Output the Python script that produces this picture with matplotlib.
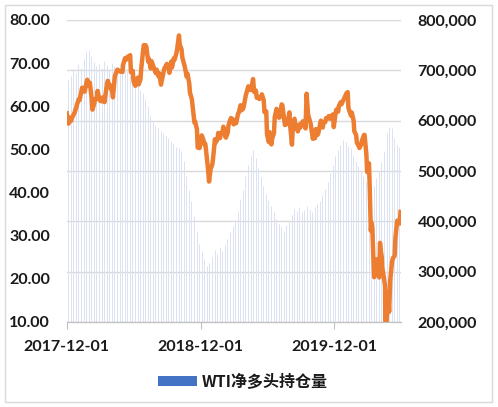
import matplotlib
matplotlib.use("Agg")
import matplotlib.pyplot as plt
import matplotlib.dates as mdates
from matplotlib.patches import Patch
from matplotlib.ticker import FuncFormatter
import pandas as pd

# WTI price (left axis), approximate Friday closes
price_dates = [
    "2017-12-01", "2017-12-08", "2017-12-15", "2017-12-22", "2017-12-29",
    "2018-01-05", "2018-01-12", "2018-01-19", "2018-01-26", "2018-02-02",
    "2018-02-09", "2018-02-16", "2018-02-23", "2018-03-02", "2018-03-09",
    "2018-03-16", "2018-03-23", "2018-03-29", "2018-04-06", "2018-04-13",
    "2018-04-20", "2018-04-27", "2018-05-04", "2018-05-11", "2018-05-18",
    "2018-05-25", "2018-06-01", "2018-06-08", "2018-06-15", "2018-06-22",
    "2018-06-29", "2018-07-06", "2018-07-13", "2018-07-20", "2018-07-27",
    "2018-08-03", "2018-08-10", "2018-08-17", "2018-08-24", "2018-08-31",
    "2018-09-07", "2018-09-14", "2018-09-21", "2018-09-28", "2018-10-03",
    "2018-10-05", "2018-10-12", "2018-10-19", "2018-10-26", "2018-11-02",
    "2018-11-09", "2018-11-16", "2018-11-23", "2018-11-30", "2018-12-07",
    "2018-12-14", "2018-12-21", "2018-12-24", "2018-12-28", "2019-01-04",
    "2019-01-11", "2019-01-18", "2019-01-25", "2019-02-01", "2019-02-08",
    "2019-02-15", "2019-02-22", "2019-03-01", "2019-03-08", "2019-03-15",
    "2019-03-22", "2019-03-29", "2019-04-05", "2019-04-12", "2019-04-18",
    "2019-04-23", "2019-04-26", "2019-05-03", "2019-05-10", "2019-05-17",
    "2019-05-24", "2019-05-31", "2019-06-07", "2019-06-12", "2019-06-14",
    "2019-06-21", "2019-06-28", "2019-07-05", "2019-07-12", "2019-07-19",
    "2019-07-26", "2019-08-02", "2019-08-07", "2019-08-09", "2019-08-16",
    "2019-08-23", "2019-08-30", "2019-09-06", "2019-09-13", "2019-09-16",
    "2019-09-20", "2019-09-27", "2019-10-03", "2019-10-04", "2019-10-11",
    "2019-10-18", "2019-10-25", "2019-11-01", "2019-11-08", "2019-11-15",
    "2019-11-22", "2019-11-29", "2019-12-06", "2019-12-13", "2019-12-20",
    "2019-12-27", "2020-01-03", "2020-01-06", "2020-01-10", "2020-01-17",
    "2020-01-24", "2020-01-31", "2020-02-07", "2020-02-14", "2020-02-21",
    "2020-02-28", "2020-03-06", "2020-03-09", "2020-03-13", "2020-03-18",
    "2020-03-20", "2020-03-27", "2020-04-01", "2020-04-03", "2020-04-06",
    "2020-04-08", "2020-04-09", "2020-04-17", "2020-04-20", "2020-04-21",
    "2020-04-24", "2020-05-01", "2020-05-08", "2020-05-15", "2020-05-22",
    "2020-05-29",
]
wti_price = [
    58.36, 57.36, 57.30, 58.47, 60.42,
    61.44, 64.30, 63.37, 66.14, 65.45,
    59.20, 61.68, 63.55, 61.25, 62.04,
    62.34, 65.88, 64.94, 62.06, 67.39,
    68.38, 68.10, 69.72, 70.70, 71.28,
    67.88, 65.81, 65.74, 65.06, 68.58,
    74.15, 73.80, 71.01, 70.46, 68.69,
    68.49, 67.63, 65.91, 68.72, 69.80,
    67.75, 68.99, 70.78, 73.25, 76.41,
    74.34, 71.34, 69.12, 67.59, 63.14,
    60.19, 56.46, 50.42, 50.93, 52.61,
    51.20, 45.59, 42.53, 45.33, 47.96,
    51.59, 53.80, 53.69, 55.26, 52.72,
    55.59, 57.26, 55.80, 56.07, 58.52,
    59.04, 60.14, 63.08, 63.89, 64.00,
    66.30, 63.30, 61.94, 61.66, 62.76,
    58.63, 53.50, 53.99, 51.14, 52.51,
    57.43, 58.47, 57.51, 60.21, 55.63,
    56.20, 55.66, 51.09, 54.50, 54.87,
    54.17, 55.10, 56.52, 54.85, 62.90,
    58.09, 55.91, 52.45, 52.81, 54.70,
    53.78, 56.66, 56.20, 57.24, 57.72,
    57.77, 55.17, 59.20, 60.07, 60.44,
    61.72, 63.05, 63.27, 59.04, 58.54,
    54.19, 51.56, 50.32, 52.05, 53.38,
    44.76, 41.28, 31.13, 31.73, 20.37,
    22.43, 21.51, 20.31, 28.34, 26.08,
    25.09, 22.76, 18.27, -37.63, 10.01,
    16.94, 19.78, 24.74, 29.43, 33.25,
    35.49,
]

# extra mid-week closes, which give the line its daily jaggedness
mid_dates = [
    "2017-12-06", "2017-12-13", "2017-12-20", "2017-12-27", "2018-01-03",
    "2018-01-10", "2018-01-17", "2018-01-24", "2018-01-31", "2018-02-07",
    "2018-02-14", "2018-02-21", "2018-02-28", "2018-03-07", "2018-03-14",
    "2018-03-21", "2018-03-28", "2018-04-04", "2018-04-11", "2018-04-18",
    "2018-04-25", "2018-05-02", "2018-05-09", "2018-05-16", "2018-05-23",
    "2018-05-30", "2018-06-06", "2018-06-13", "2018-06-20", "2018-06-27",
    "2018-07-04", "2018-07-11", "2018-07-18", "2018-07-25", "2018-08-01",
    "2018-08-08", "2018-08-15", "2018-08-22", "2018-08-29", "2018-09-05",
    "2018-09-12", "2018-09-19", "2018-09-26", "2018-10-10", "2018-10-17",
    "2018-10-24", "2018-10-31", "2018-11-07", "2018-11-14", "2018-11-21",
    "2018-11-28", "2018-12-04", "2018-12-12", "2018-12-19", "2019-01-02",
    "2019-01-09", "2019-01-16", "2019-01-23", "2019-01-30", "2019-02-06",
    "2019-02-13", "2019-02-20", "2019-02-27", "2019-03-06", "2019-03-13",
    "2019-03-20", "2019-03-27", "2019-04-03", "2019-04-10", "2019-04-17",
    "2019-05-01", "2019-05-08", "2019-05-15", "2019-05-22", "2019-05-29",
    "2019-06-05", "2019-06-19", "2019-06-26", "2019-07-03", "2019-07-10",
    "2019-07-17", "2019-07-24", "2019-07-31", "2019-08-14", "2019-08-21",
    "2019-08-28", "2019-09-04", "2019-09-11", "2019-09-25", "2019-10-09",
    "2019-10-16", "2019-10-23", "2019-10-30", "2019-11-06", "2019-11-13",
    "2019-11-20", "2019-11-27", "2019-12-04", "2019-12-11", "2019-12-18",
    "2020-01-08", "2020-01-15", "2020-01-22", "2020-01-29", "2020-02-05",
    "2020-02-12", "2020-02-19", "2020-02-26", "2020-03-04", "2020-03-11",
    "2020-03-25", "2020-04-14", "2020-04-28", "2020-05-06", "2020-05-13",
    "2020-05-20", "2020-05-27",
]
mid_price = [
    55.96, 56.60, 58.09, 59.64, 61.63,
    63.57, 63.97, 65.61, 64.73, 61.79,
    60.60, 61.68, 61.64, 61.15, 60.96,
    65.17, 64.38, 63.37, 66.82, 68.47,
    68.05, 67.93, 71.14, 71.49, 71.84,
    68.21, 64.73, 66.64, 66.22, 72.76,
    74.14, 70.38, 68.76, 69.30, 67.66,
    66.94, 65.01, 67.86, 69.51, 68.72,
    70.37, 71.12, 72.28, 73.17, 69.75,
    66.82, 65.31, 61.67, 56.25, 54.63,
    50.29, 53.25, 51.15, 47.20, 46.54,
    52.36, 52.31, 52.62, 54.23, 53.01,
    53.90, 56.92, 56.94, 56.22, 58.26,
    60.23, 59.41, 62.46, 64.61, 63.76,
    63.60, 62.12, 62.02, 61.42, 58.81,
    51.68, 53.76, 59.38, 57.34, 60.43,
    56.78, 55.88, 58.58, 57.10, 55.68,
    55.78, 56.26, 55.75, 56.49, 52.59,
    53.36, 55.97, 55.06, 56.35, 57.12,
    57.11, 58.11, 58.43, 58.76, 60.93,
    59.61, 57.81, 56.74, 53.33, 50.75,
    51.17, 53.29, 48.73, 46.78, 32.98,
    24.49, 20.11, 12.34, 24.00, 25.29,
    33.49, 32.81,
]

# WTI net long positions (right axis), weekly from 2017-12-05, thousands
net_long_start = "2017-12-05"
net_long_k = [
    680, 688, 702, 695, 712, 705, 722, 738, 741, 728,
    716, 708, 712, 705, 718, 710, 702, 714, 708, 700,
    712, 705, 698, 702, 690, 682, 675, 668, 660, 655,
    642, 630, 612, 598, 590, 585, 580, 575, 570, 565,
    560, 555, 548, 545, 540, 520, 490, 462, 440, 410,
    380, 355, 340, 325, 312, 318, 330, 342, 335, 348,
    340, 352, 365, 378, 390, 402, 420, 445, 462, 490,
    512, 530, 541, 525, 505, 488, 470, 455, 442, 430,
    418, 405, 395, 388, 380, 392, 400, 412, 425, 420,
    428, 418, 422, 430, 425, 418, 428, 435, 440, 452,
    465, 478, 495, 512, 530, 542, 552, 562, 558, 550,
    545, 532, 520, 510, 502, 490, 478, 468, 462, 470,
    485, 500, 518, 540, 575, 588, 585, 565, 552, 548,
]

x_ticks = ["2017-12-01", "2018-12-01", "2019-12-01"]
legend_label = "WTI净多头持仓量"

price = pd.Series(wti_price + mid_price,
                  index=pd.to_datetime(price_dates + mid_dates)).sort_index()
net_x = pd.date_range(net_long_start, periods=len(net_long_k), freq="7D")
net_long = [v * 1000 for v in net_long_k]

font = ["Lato", "DejaVu Sans"]
cjk = ["Noto Sans CJK SC", "DejaVu Sans"]
grid_c = "#d9d9d9"

fig = plt.figure(figsize=(4.98, 4.07), dpi=100)
ax = fig.add_axes([0.134, 0.209, 0.671, 0.742])
ax2 = ax.twinx()

# bars on the right axis, drawn behind the price line
ax2.vlines(net_x, 200000, net_long, color="#dbe2f1", linewidth=0.7)
ax2.set_ylim(200000, 800000)
ax2.set_yticks(range(200000, 800001, 100000))
ax2.yaxis.set_major_formatter(FuncFormatter(lambda v, p: f"{int(v):,}"))

ax.plot(price.index, price.values, color="#ED7D31", linewidth=3.2,
        solid_joinstyle="round")
ax.set_ylim(10, 80)
ax.set_yticks(range(10, 81, 10))
ax.yaxis.set_major_formatter(FuncFormatter(lambda v, p: f"{v:.2f}"))
ax.set_zorder(ax2.get_zorder() + 1)
ax.patch.set_visible(False)

ax.set_xlim(pd.Timestamp("2017-12-01"), pd.Timestamp("2020-05-30"))
ax.set_xticks(pd.to_datetime(x_ticks))
ax.xaxis.set_major_formatter(mdates.DateFormatter("%Y-%m-%d"))

# gridlines live on the bar axis so they sit behind everything
for v in range(200000, 800001, 100000):
    ax2.axhline(v, color=grid_c, linewidth=1.0, zorder=0)

for a in (ax, ax2):
    for s in ("top", "left", "right"):
        a.spines[s].set_visible(False)
    a.spines["bottom"].set_color("#bfbfbf")
ax.tick_params(axis="y", length=0, pad=12)
ax2.tick_params(axis="y", length=0, pad=12)
ax.tick_params(axis="x", length=5, color="#bfbfbf", pad=8)
for lab in ax.get_yticklabels() + ax2.get_yticklabels() + ax.get_xticklabels():
    lab.set_fontfamily(font)
    lab.set_fontweight("bold")
    lab.set_fontsize(11.5)
    lab.set_color("#1a1a1a")

handle = Patch(facecolor="#4472C4", edgecolor="none")
leg = fig.legend([handle], [legend_label], loc="center",
                 bbox_to_anchor=(243 / 498, 1 - 382 / 407), frameon=False,
                 handlelength=2.4, handleheight=0.6, handletextpad=0.3,
                 prop={"family": cjk, "weight": "bold", "size": 11.5})
for t in leg.get_texts():
    t.set_color("#1a1a1a")

# light chart-area border
fig.patches.append(plt.Rectangle((5 / 498, 5 / 407), 487 / 498, 397 / 407,
                                 transform=fig.transFigure, fill=False,
                                 edgecolor="#d9d9d9", linewidth=1.0))

fig.savefig("out.png", dpi=100)
